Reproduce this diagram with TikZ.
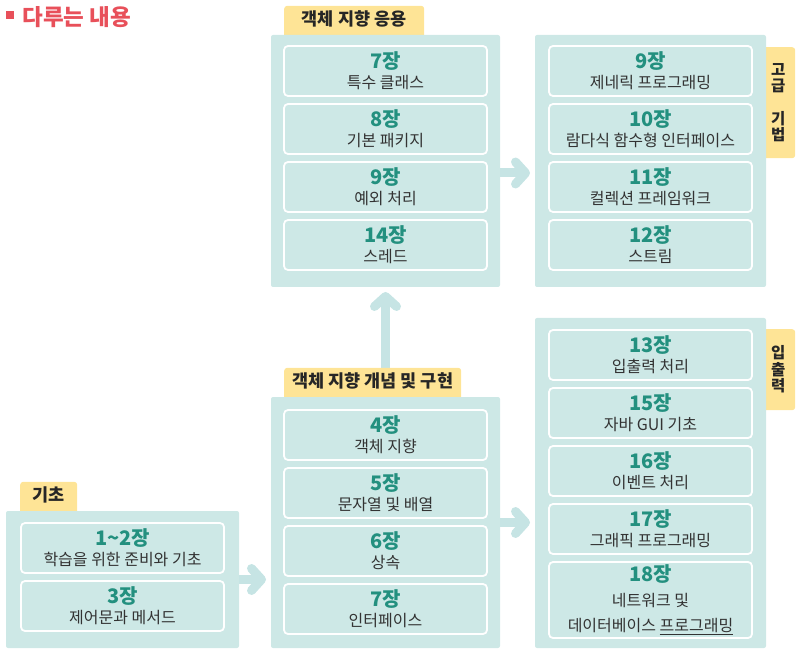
\documentclass[tikz,border=0pt]{standalone}
\usepackage{fontspec}
\setmainfont{Noto Sans CJK KR}
\usetikzlibrary{positioning, backgrounds, arrows.meta}

\definecolor{panelcol}{HTML}{CDE8E6}
\definecolor{tabcol}{HTML}{FEE496}
\definecolor{numcol}{HTML}{23907F}
\definecolor{textcol}{HTML}{333333}
\definecolor{titlecol}{HTML}{E8505A}
\definecolor{arrowcol}{HTML}{C6E4E4}

\tikzstyle{panel} = [rectangle, fill=panelcol, rounded corners=2pt, anchor=north west, inner sep=0pt, outer sep=0pt]
\tikzstyle{card} = [rectangle, fill=panelcol, draw=white, line width=1.8pt, rounded corners=4pt,
 minimum width=203pt, minimum height=50pt, align=center, inner sep=0pt, outer sep=0pt,
 text=textcol, font=\fontsize{16}{20}\selectfont]
\tikzstyle{tab} = [rectangle, fill=tabcol, rounded corners=3pt, minimum height=33pt, text height=14pt,
 text depth=7pt, inner xsep=4pt, anchor=south west, text=black!85, font=\bfseries\fontsize{17.5}{18}\selectfont]
\tikzstyle{sidetab} = [rectangle, fill=tabcol, rounded corners=3pt, minimum width=34pt, anchor=north west,
 align=center, inner sep=0pt, text=black!85, font=\bfseries\fontsize{15.5}{16.5}\selectfont]
\tikzstyle{arrow} = [line width=9pt, arrowcol, line cap=round, shorten >=5pt,
 -{Straight Barb[length=10pt, width=22pt, line cap=round, line join=round]}]
\NewDocumentCommand\Chapter{m m m m}{%
    \node (#1) [card, #2] {{\bfseries\color{numcol}\fontsize{20}{20}\selectfont #3}\\#4};
}

\begin{document}
\begin{tikzpicture}[x=1pt, y=1pt]
\useasboundingbox (0,0) rectangle (800,654);

\node (bullet) [fill=titlecol, minimum size=8pt, inner sep=0pt] at (10,639) {};
\node (title) [right=8pt of bullet, yshift=-2pt, inner sep=0pt, text=titlecol,
    font=\bfseries\fontsize{22.5}{24}\selectfont] {다루는 내용};

% Panels
\node (basic) [panel, minimum width=233pt, minimum height=137pt] at (6,143) {};
\node (mid) [panel, minimum width=229pt, minimum height=251pt] at (271,257) {};
\node (app) [panel, minimum width=229pt, minimum height=252pt] at (271,619) {};
\node (adv) [panel, minimum width=231pt, minimum height=252pt] at (535,619) {};
\node (io) [panel, minimum width=231pt, minimum height=330pt] at (535,336) {};

% Basics
\Chapter{ch1}{below=12pt of basic.north}{1\textasciitilde2장}{학습을 위한 준비와 기초}
\Chapter{ch3}{below=8pt of ch1}{3장}{제어문과 메서드}

% Object oriented concepts
\Chapter{ch4}{below=13pt of mid.north}{4장}{객체 지향}
\Chapter{ch5}{below=8pt of ch4}{5장}{문자열 및 배열}
\Chapter{ch6}{below=8pt of ch5}{6장}{상속}
\Chapter{ch7}{below=8pt of ch6}{7장}{인터페이스}

% Object oriented applications
\Chapter{ch7b}{below=11pt of app.north}{7장}{특수 클래스}
\Chapter{ch8}{below=8pt of ch7b}{8장}{기본 패키지}
\Chapter{ch9}{below=8pt of ch8}{9장}{예외 처리}
\Chapter{ch14}{below=8pt of ch9}{14장}{스레드}

% Advanced
\Chapter{ch9b}{below=11pt of adv.north}{9장}{제네릭 프로그래밍}
\Chapter{ch10}{below=8pt of ch9b}{10장}{람다식 함수형 인터페이스}
\Chapter{ch11}{below=8pt of ch10}{11장}{컬렉션 프레임워크}
\Chapter{ch12}{below=8pt of ch11}{12장}{스트림}

% I/O
\Chapter{ch13}{below=12pt of io.north}{13장}{입출력 처리}
\Chapter{ch15}{below=8pt of ch13}{15장}{자바 GUI 기초}
\Chapter{ch16}{below=8pt of ch15}{16장}{이벤트 처리}
\Chapter{ch17}{below=8pt of ch16}{17장}{그래픽 프로그래밍}
\Chapter{ch18}{below=8pt of ch17, minimum height=76pt, font=\fontsize{16}{25}\selectfont}{18장}{네트워크 및\\데이터베이스 \underline{프로그래밍}}

\begin{scope}[on background layer]
% Arrows
\draw[arrow] (basic.east) -- (basic.east -| mid.west);
\draw[arrow] (mid.east) -- (mid.east -| io.west);
\draw[arrow] ([yshift=-12pt]app.east) -- ([yshift=-12pt]app.east -| adv.west);
\draw[arrow] (mid.north) -- (mid.north |- app.south);

% Tabs
\node (basictab) [tab, minimum width=57pt] at ([xshift=14pt, yshift=-4pt]basic.north west) {기초};
\node (midtab) [tab, minimum width=177pt] at ([xshift=13pt, yshift=-4pt]mid.north west) {객체 지향 개념 및 구현};
\node (apptab) [tab, minimum width=140pt] at ([xshift=13pt, yshift=-4pt]app.north west) {객체 지향 응용};
\node (advtab) [sidetab, minimum height=111pt] at ([xshift=-5pt, yshift=-12pt]adv.north east) {고\\급\\[16pt]기\\법};
\node (iotab) [sidetab, minimum height=81pt] at ([xshift=-5pt, yshift=-11pt]io.north east) {입\\출\\력};
\end{scope}

\end{tikzpicture}
\end{document}
